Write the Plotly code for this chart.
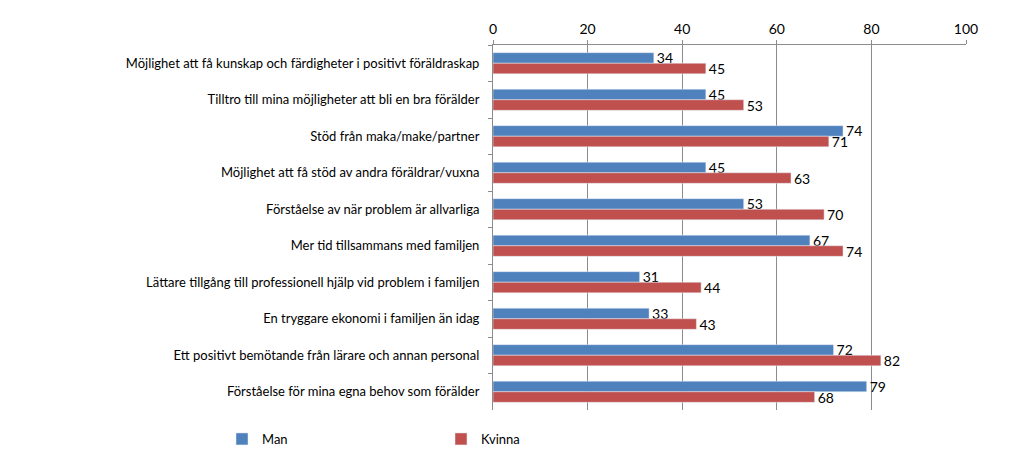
import plotly.graph_objects as go

categories = [
    "Möjlighet att få kunskap och färdigheter i positivt föräldraskap",
    "Tilltro till mina möjligheter att bli en bra förälder",
    "Stöd från maka/make/partner",
    "Möjlighet att få stöd av andra föräldrar/vuxna",
    "Förståelse av när problem är allvarliga",
    "Mer tid tillsammans med familjen",
    "Lättare tillgång till professionell hjälp vid problem i familjen",
    "En tryggare ekonomi i familjen än idag",
    "Ett positivt bemötande från lärare och annan personal",
    "Förståelse för mina egna behov som förälder",
]
man = [34, 45, 74, 45, 53, 67, 31, 33, 72, 79]
kvinna = [45, 53, 71, 63, 70, 74, 44, 43, 82, 68]
x_ticks = [0, 20, 40, 60, 80, 100]

font_family = "Lato, 'Open Sans', sans-serif"

fig = go.Figure()
fig.add_trace(go.Bar(
    y=categories, x=man, name="Man", orientation="h",
    marker=dict(color="#4F81BD"), legend="legend",
    text=man, textposition="outside", cliponaxis=False, constraintext="none",
    textfont=dict(size=14, color="#000000"),
))
fig.add_trace(go.Bar(
    y=categories, x=kvinna, name="Kvinna", orientation="h",
    marker=dict(color="#C0504D"), legend="legend2",
    text=kvinna, textposition="outside", cliponaxis=False, constraintext="none",
    textfont=dict(size=14, color="#000000"),
))

legend_common = dict(
    orientation="h", xref="container", yref="container",
    yanchor="top", xanchor="left", font=dict(size=13),
    itemwidth=30, bgcolor="rgba(0,0,0,0)",
)

fig.update_layout(
    width=1024, height=468,
    margin=dict(l=493, r=58, t=45, b=58, autoexpand=False),
    paper_bgcolor="white", plot_bgcolor="white",
    font=dict(family=font_family, size=13, color="#000000"),
    barmode="group", bargap=0.42, bargroupgap=0,
    showlegend=True,
    legend=dict(legend_common, x=222 / 1024, y=1 - 424 / 468),
    legend2=dict(legend_common, x=441 / 1024, y=1 - 424 / 468),
    xaxis=dict(
        side="top", range=[0, 100], tickvals=x_ticks,
        showgrid=True, gridcolor="#8c8c8c", gridwidth=1,
        showline=True, linecolor="#8c8c8c", linewidth=1,
        ticks="outside", ticklen=4, tickcolor="#8c8c8c",
        zeroline=False, tickfont=dict(size=14),
    ),
    yaxis=dict(
        autorange="reversed", showline=True, linecolor="#8c8c8c", linewidth=1,
        ticks="outside", tickson="boundaries", ticklen=4, tickcolor="#8c8c8c",
        showgrid=False, tickfont=dict(size=13), ticklabelstandoff=10,
    ),
)

fig.write_html("out.html")
